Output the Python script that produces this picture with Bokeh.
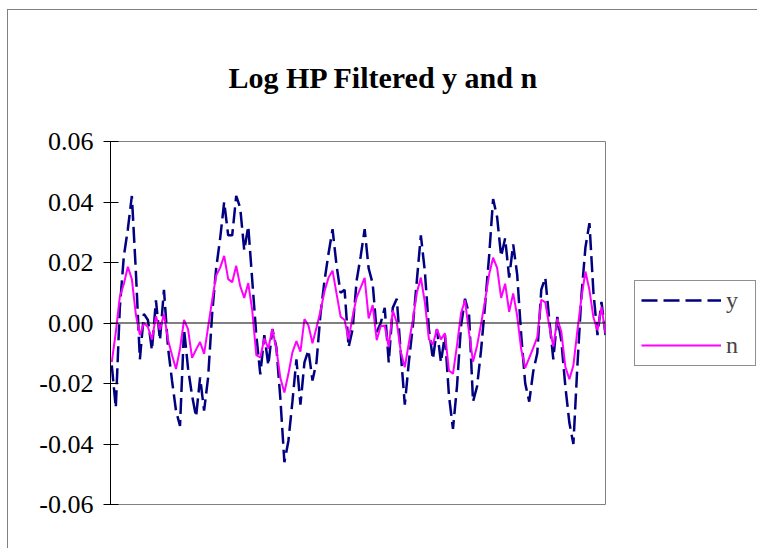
from bokeh.plotting import figure
from bokeh.models import Range1d, FixedTicker, NumeralTickFormatter, Span, Legend, LegendItem
from bokeh.embed import file_html
from bokeh.resources import INLINE

title_text = "Log HP Filtered y and n"
series_names = ["y", "n"]
y_ticks = [-0.06, -0.04, -0.02, 0.0, 0.02, 0.04, 0.06]

y_vals = [
    -0.014, -0.028, 0.005, 0.022, 0.031, 0.042, 0.017, -0.012, 0.003, 0.001,
    -0.009, 0.0075, -0.0057, 0.011, -0.008, -0.019, -0.029, -0.034, -0.002, -0.015,
    -0.024, -0.031, -0.018, -0.029, -0.018, 0.003, 0.018, 0.028, 0.040, 0.029,
    0.029, 0.042, 0.038, 0.024, 0.032, 0.014, -0.004, -0.017, -0.004, -0.014,
    -0.002, -0.008, -0.025, -0.046, -0.039, -0.026, -0.012, -0.027, -0.013, -0.009,
    -0.019, -0.013, 0.003, 0.014, 0.023, 0.031, 0.019, 0.010, 0.011, -0.008,
    -0.002, 0.014, 0.022, 0.031, 0.018, 0.013, -0.003, 0.000, 0.005, -0.013,
    0.005, 0.008, -0.010, -0.027, -0.013, -0.001, 0.014, 0.029, 0.017, -0.002,
    -0.012, -0.002, -0.013, -0.004, -0.024, -0.035, -0.021, -0.001, 0.008, 0.003,
    -0.026, -0.021, -0.009, 0.006, 0.022, 0.041, 0.035, 0.022, 0.028, 0.015,
    0.026, 0.016, -0.004, -0.020, -0.026, -0.016, -0.010, 0.011, 0.015, 0.001,
    -0.012, 0.002, -0.006, -0.021, -0.033, -0.040, -0.014, 0.009, 0.025, 0.033,
    0.010, -0.004, 0.007, -0.004,
]

n_vals = [
    -0.0129, -0.003, 0.0086, 0.0129, 0.0186, 0.0145, 0.0028, -0.004, 0.0, -0.0013,
    -0.0055, 0.0022, -0.0022, 0.003, -0.0055, -0.0106, -0.0152, -0.0085, 0.001, -0.002,
    -0.0115, -0.0088, -0.0063, -0.0102, -0.0013, 0.0075, 0.0157, 0.0183, 0.0222, 0.0145,
    0.0135, 0.0189, 0.0122, 0.0083, 0.0132, 0.0041, -0.0106, -0.0114, -0.0051, -0.0085,
    -0.002, -0.0085, -0.0182, -0.023, -0.0168, -0.0097, -0.006, -0.0095, 0.0013, -0.0008,
    -0.0067, -0.0015, 0.004, 0.0105, 0.015, 0.0173, 0.0097, 0.0021, 0.001, -0.0054,
    0.0022, 0.0085, 0.0117, 0.0149, 0.0015, 0.0059, -0.0057, -0.001, -0.0009, -0.008,
    0.0041, 0.0002, -0.0095, -0.0146, -0.0067, 0.001, 0.01, 0.015, 0.0068, -0.0053,
    -0.0071, -0.002, -0.0054, -0.0034, -0.0157, -0.0168, -0.0074, 0.0032, 0.0075, -0.0032,
    -0.0128, -0.0075, -0.0003, 0.0075, 0.016, 0.0216, 0.0182, 0.0083, 0.013, 0.0037,
    0.0098, 0.0023, -0.0087, -0.0148, -0.0115, -0.0082, -0.0047, 0.0077, 0.0068, -0.001,
    -0.0078, 0.0014, -0.0029, -0.0145, -0.0186, -0.014, -0.0024, 0.0083, 0.017, 0.0109,
    0.0018, -0.0024, 0.0053, -0.0035,
]

periods = list(range(len(y_vals)))

p = figure(
    frame_width=495, frame_height=363,
    output_backend="svg", toolbar_location=None,
    x_range=Range1d(-0.32, len(periods) - 1),
    y_range=Range1d(y_ticks[0], y_ticks[-1]),
    min_border_left=102, min_border_right=146,
    min_border_top=131, min_border_bottom=44,
    background_fill_color="white", border_fill_color="white",
)
p.styles = {"margin-left": "7px", "margin-top": "9px",
            "border-left": "1px solid #808080", "border-top": "1px solid #808080"}
p.outline_line_color = "#808080"
p.outline_line_width = 1
p.xgrid.visible = False
p.ygrid.visible = False
p.xaxis.visible = False

p.title.text = title_text
p.title.text_font = "Liberation Serif"
p.title.text_font_size = "30px"
p.title.text_font_style = "bold"
p.title.align = "left"
p.title.offset = 118
p.title.standoff = 95
p.title.text_color = "black"

ax = p.yaxis[0]
ax.ticker = FixedTicker(ticks=y_ticks)
ax.formatter = NumeralTickFormatter(format="0.00")
ax.axis_line_color = "black"
ax.major_tick_line_color = "black"
ax.major_tick_in = 8
ax.major_tick_out = 7
ax.minor_tick_line_color = None
ax.major_label_standoff = 10
ax.major_label_text_font = "Liberation Serif"
ax.major_label_text_font_size = "26px"
ax.major_label_text_color = "black"

p.add_layout(Span(location=0, dimension="width", line_color="black", line_width=1))

ry = p.line(periods, y_vals, line_color="#000080", line_width=2.5, line_dash="16 6")
rn = p.line(periods, n_vals, line_color="#FF00FF", line_width=2)

legend = Legend(
    items=[LegendItem(label=series_names[0], renderers=[ry]),
           LegendItem(label=series_names[1], renderers=[rn])],
    location="left",
    glyph_width=80, glyph_height=20, label_height=20, label_width=23,
    spacing=18, padding=6, margin=29,
    label_standoff=5,
    label_text_font="Liberation Serif", label_text_font_size="24px",
    border_line_color="#202020", border_line_width=1,
    background_fill_color="white",
)
p.add_layout(legend, "right")

open("out.html", "w").write(file_html(p, INLINE))
